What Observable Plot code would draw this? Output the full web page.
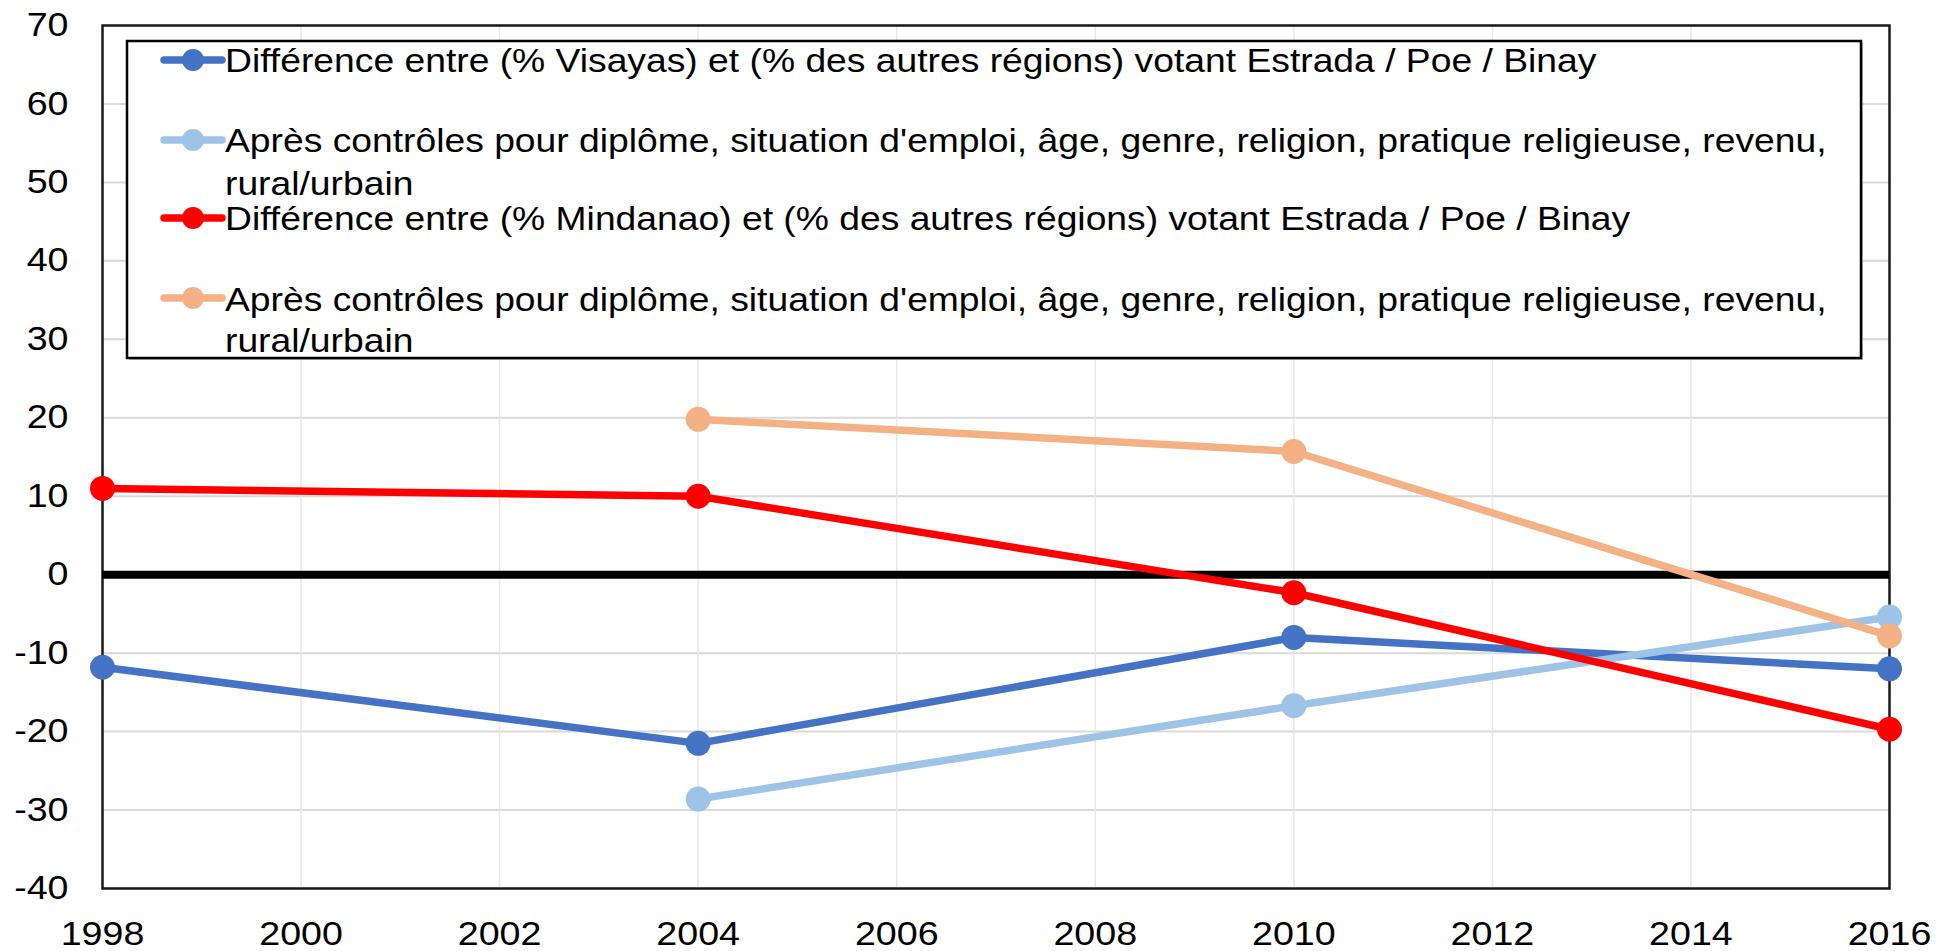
<!DOCTYPE html>
<html>
<head>
<meta charset="utf-8">
<script src="https://cdn.jsdelivr.net/npm/d3@7"></script>
<script src="https://cdn.jsdelivr.net/npm/@observablehq/plot@0.6"></script>
<style>
  html, body { margin: 0; padding: 0; background: #fff; }
  #chart svg { display: block; }
</style>
</head>
<body>
<div id="chart"></div>
<script>
// ---- data ----
const years = [1998, 2004, 2010, 2016];
const visayas      = [-11.8, -21.5, -8.0, -12.0];
const visayasCtrl  = [null, -28.6, -16.7, -5.4];
const mindanao     = [11.0, 10.0, -2.3, -19.7];
const mindanaoCtrl = [null, 19.8, 15.7, -7.8];
const seriesNames = [
  ["Différence entre (% Visayas) et (% des autres régions) votant Estrada / Poe / Binay"],
  ["Après contrôles pour diplôme, situation d'emploi, âge, genre, religion, pratique religieuse, revenu,", "rural/urbain"],
  ["Différence entre (% Mindanao) et (% des autres régions) votant Estrada / Poe / Binay"],
  ["Après contrôles pour diplôme, situation d'emploi, âge, genre, religion, pratique religieuse, revenu,", "rural/urbain"]
];
const xTicks = [1998, 2000, 2002, 2004, 2006, 2008, 2010, 2012, 2014, 2016];
const yTicks = [-40, -30, -20, -10, 0, 10, 20, 30, 40, 50, 60, 70];

// ---- styles ----
const colors = ["#4472C4", "#9DC3E6", "#FF0000", "#F4B183"];
const FONT = "'Liberation Sans', Arial, sans-serif";

const seriesValues = [visayas, visayasCtrl, mindanao, mindanaoCtrl];
const seriesRows = seriesValues.map((vals, i) =>
  years.map((yr, j) => ({year: yr, value: vals[j], series: i})).filter(d => d.value != null)
);

const marks = [
  Plot.gridY(yTicks, {stroke: "#D9D9D9", strokeOpacity: 1, strokeWidth: 2}),
  Plot.gridX(xTicks, {stroke: "#E8E8E8", strokeOpacity: 1, strokeWidth: 1.5}),
  Plot.frame({stroke: "#1a1a1a", strokeWidth: 2.5}),
  Plot.ruleY([0], {stroke: "#000", strokeWidth: 8}),
];
seriesRows.forEach((rows, i) => {
  marks.push(Plot.line(rows, {x: "year", y: "value", stroke: colors[i], strokeWidth: 7.5}));
  marks.push(Plot.dot(rows, {x: "year", y: "value", r: 12.5, fill: colors[i], stroke: "none"}));
});
marks.push(
  Plot.axisX(xTicks, {tickSize: 0, tickPadding: 33, tickFormat: d => String(d), fontSize: 33, label: null}),
  Plot.axisY(yTicks, {tickSize: 0, tickPadding: 34, tickFormat: d => String(d), fontSize: 33, label: null})
);

const chart = Plot.plot({
  width: 1953,
  height: 951,
  marginLeft: 102,
  marginRight: 64,
  marginTop: 25,
  marginBottom: 63,
  style: {fontFamily: FONT, fontSize: "33px", color: "#000", background: "#fff"},
  x: {domain: [1998, 2016], label: null},
  y: {domain: [-40, 70], label: null},
  marks
});

// stretch tick labels horizontally to match the reference rendering
chart.querySelectorAll('g[aria-label="x-axis tick label"] text, g[aria-label="y-axis tick label"] text').forEach(t => {
  const tr = t.getAttribute("transform") || "";
  t.setAttribute("transform", tr + " scale(1.14,1)");
});

// ---- legend (inside the plot area) ----
const svg = d3.select(chart);
const lg = svg.append("g").attr("aria-label", "legend").attr("text-anchor", "start");
lg.append("rect").attr("x", 129).attr("y", 43).attr("width", 1734).attr("height", 317).attr("fill", "#bfbfbf");
lg.append("rect").attr("x", 127).attr("y", 41).attr("width", 1734).attr("height", 317)
  .attr("fill", "#fff").attr("stroke", "#000").attr("stroke-width", 2.5);
const symbolY = [60, 140, 218, 298];
const baselines = [[72], [152, 195], [230], [311, 352]];
seriesNames.forEach((lines, i) => {
  lg.append("line").attr("x1", 164).attr("x2", 222).attr("y1", symbolY[i]).attr("y2", symbolY[i])
    .attr("stroke", colors[i]).attr("stroke-width", 7.5).attr("stroke-linecap", "round");
  lg.append("circle").attr("cx", 193).attr("cy", symbolY[i]).attr("r", 11).attr("fill", colors[i]);
  lines.forEach((txt, k) => {
    lg.append("text")
      .attr("text-anchor", "start")
      .attr("transform", `translate(225,${baselines[i][k]}) scale(1.096,1)`)
      .attr("font-family", FONT).attr("font-size", 34).attr("fill", "#000")
      .text(txt);
  });
});

document.getElementById("chart").appendChild(chart);
</script>
</body>
</html>
